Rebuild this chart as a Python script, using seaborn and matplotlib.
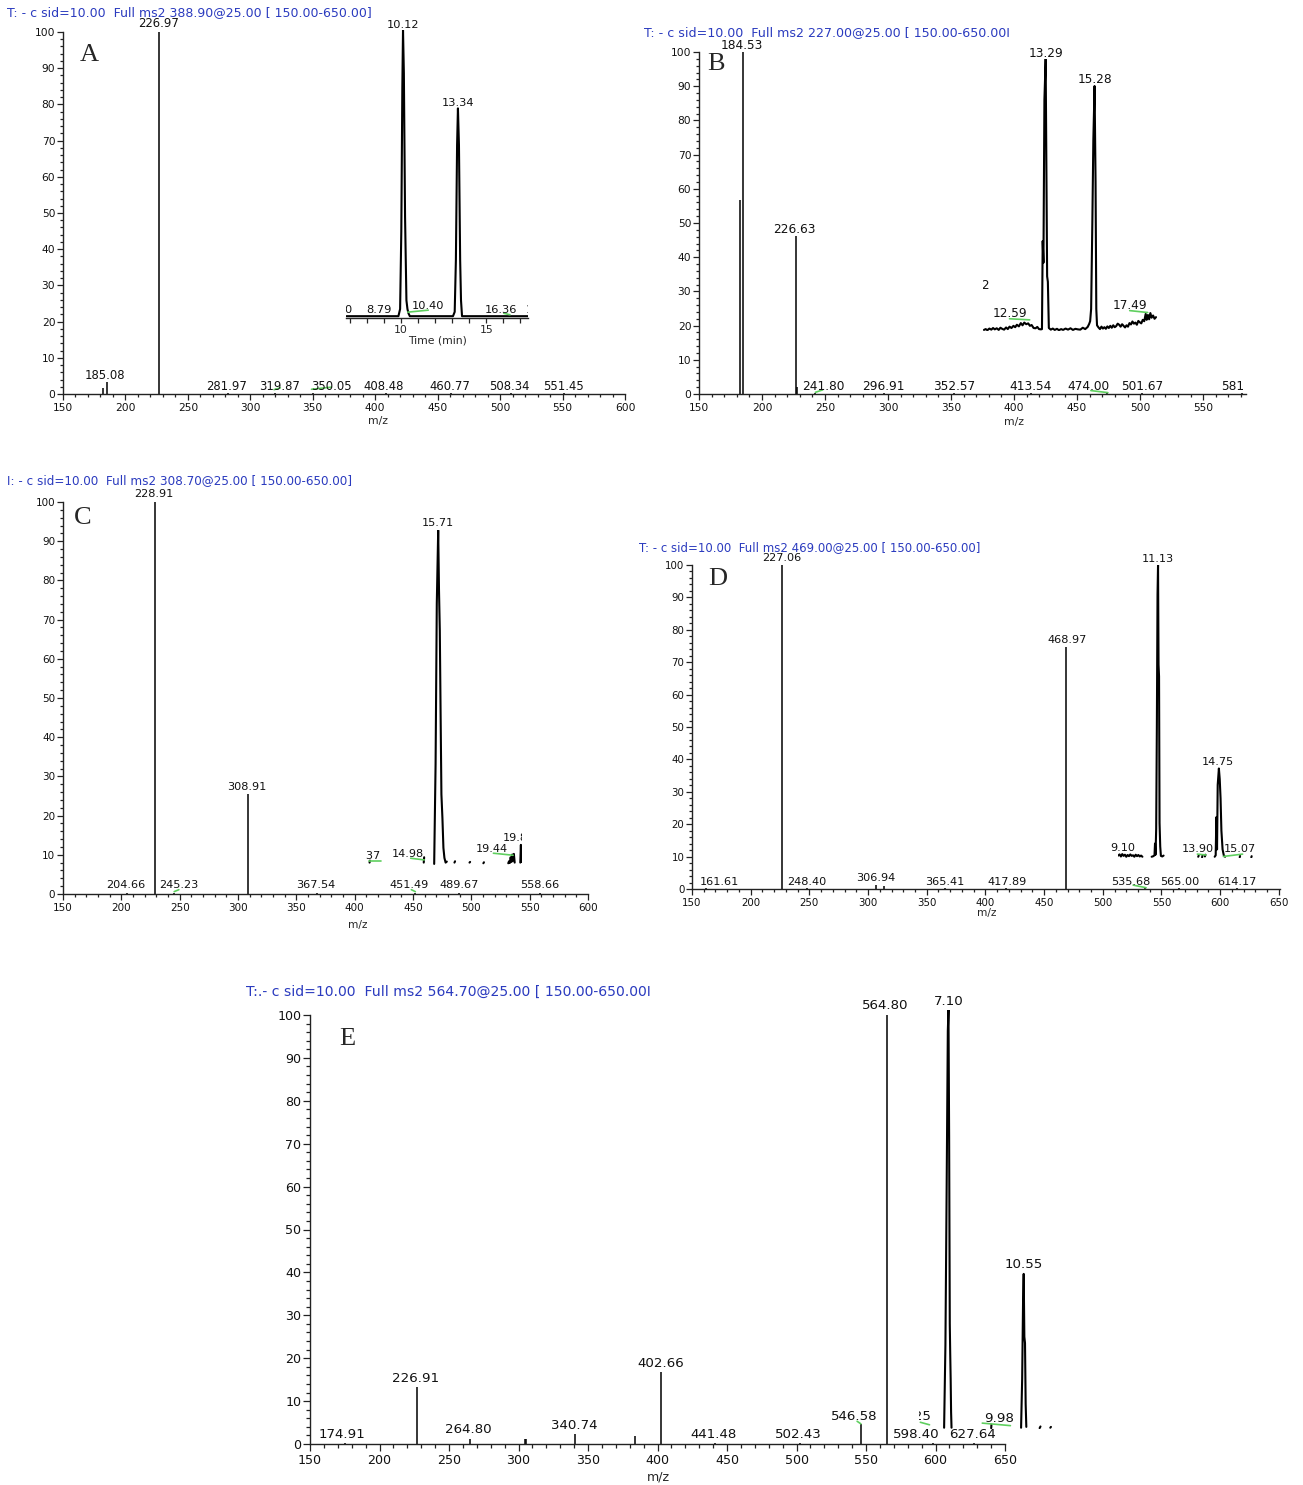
import matplotlib
matplotlib.use("Agg")
import matplotlib.pyplot as plt
from matplotlib.ticker import MultipleLocator
import pandas as pd
import seaborn as sns

sns.set_style("ticks")
plt.rcParams['font.family'] = ['DejaVu Sans']

W, H = 1303, 1485
BLUE = '#2b3bbf'
GREEN = '#5fcf5f'

# ---------------- panel A ----------------
a_title = "T: - c sid=10.00  Full ms2 388.90@25.00 [ 150.00-650.00]"
a_mz = [181.7, 185.08, 226.97, 281.97, 319.87, 350.05, 408.48, 460.77, 508.34, 551.45]
a_int = [1.6, 3.2, 100.0, 0.2, 0.2, 0.2, 0.2, 0.2, 0.2, 0.2]
a_lab = ["185.08", "226.97", "281.97", "319.87", "350.05", "408.48", "460.77", "508.34", "551.45"]
a_lab_x = [183.7, 226.5, 280.7, 323.0, 364.7, 407.0, 459.8, 507.8, 551.0]
a_lab_y = [5.2, 102.3, 2.0, 2.0, 2.0, 2.0, 2.0, 2.0, 2.0]
a_green = [(319.0, 1.2, 324.0, 1.7), (349.0, 1.3, 365.0, 1.9)]
# chromatogram inset (time in min, relative abundance)
a_seg = [0] * 22
a_rt = [6.8, 9.85, 9.95, 10.02, 10.08, 10.12, 10.17, 10.24, 10.32, 10.38, 10.44, 10.52,
        13.05, 13.15, 13.22, 13.29, 13.34, 13.40, 13.47, 13.52, 13.58, 17.45]
a_ri = [0.5, 0.5, 3, 30, 80, 100, 85, 35, 6, 3, 1.5, 0.5,
        0.5, 2, 20, 60, 72.8, 60, 20, 6, 0.5, 0.5]
a_rt_lab = ["7.60", "8.79", "10.12", "10.40", "13.34", "16.36", "17.51"]
a_rt_lab_x = [6.41, 8.73, 10.12, 11.6, 13.34, 15.86, 18.3]
a_rt_lab_y = [2.6, 2.6, 101.9, 4.2, 74.7, 2.5, 2.6]
a_rt_clip = [True, False, False, False, False, False, True]
a_rt_green = [(10.40, 1.9, 11.6, 2.6), (16.03, 1.5, 16.39, 1.0)]

# ---------------- panel B ----------------
b_title = "T: - c sid=10.00  Full ms2 227.00@25.00 [ 150.00-650.00I"
b_mz = [182.6, 184.53, 226.63, 227.4, 241.80, 296.91, 352.57, 413.54, 474.00, 501.67, 581.0]
b_int = [56.7, 100.0, 46.2, 2.0, 0.2, 0.2, 0.2, 0.2, 0.2, 0.2, 0.2]
b_lab = ["184.53", "226.63", "241.80", "296.91", "352.57", "413.54", "474.00", "501.67", "581"]
b_lab_x = [184.3, 226.0, 248.5, 296.2, 352.4, 412.9, 458.6, 501.3, 573.5]
b_lab_y = [102.0, 48.2, 2.1, 2.1, 2.1, 2.1, 2.1, 2.1, 2.1]
b_green = [(242.4, 0.5, 248.1, 1.2), (460.9, 1.0, 474.4, 0.4)]
b_rt = [10.78, 10.85, 10.92, 11.0, 11.08, 11.15, 11.22, 11.3, 11.38, 11.45, 11.52, 11.6,
        11.68, 11.75, 11.82, 11.9, 11.98, 12.05, 12.12, 12.2, 12.28, 12.35, 12.42, 12.5,
        12.58, 12.65, 12.72, 12.8, 12.88, 12.95, 13.02, 13.1,
        13.14, 13.17, 13.2, 13.24, 13.29, 13.32, 13.35, 13.38, 13.42,
        13.5, 13.58, 13.66, 13.75, 13.83, 13.92, 14.0, 14.1, 14.2, 14.3, 14.4, 14.5,
        14.6, 14.7, 14.8, 14.9, 15.0, 15.06, 15.1,
        15.14, 15.19, 15.23, 15.28, 15.32, 15.35, 15.38,
        15.44, 15.5, 15.56, 15.62, 15.68, 15.74, 15.8, 15.86, 15.92, 15.98, 16.04, 16.1,
        16.16, 16.22, 16.28, 16.34, 16.4, 16.46, 16.52, 16.58, 16.64, 16.7, 16.76, 16.82,
        16.88, 16.94, 17.0, 17.06, 17.12, 17.18, 17.24, 17.3, 17.36, 17.4, 17.45, 17.5,
        17.55, 17.6, 17.66, 17.72, 17.78]
b_ri = [0.3, 0.6, 0.2, 0.8, 0.4, 1.0, 0.5, 0.9, 0.3, 1.1, 0.7, 0.4,
        1.2, 0.6, 1.5, 1.0, 1.8, 1.3, 2.2, 1.6, 2.8, 2.0, 3.0, 2.4,
        2.7, 1.8, 2.1, 1.0, 0.9, 1.4, 0.6, 0.5,
        0.6, 33, 25, 85, 100, 60, 20, 18, 1.0,
        0.4, 0.8, 0.3, 0.7, 0.2, 0.6, 0.3, 0.8, 0.4, 0.9, 0.3, 0.7,
        0.5, 0.4, 1.1, 0.6, 1.4, 2.5, 3.5,
        8, 40, 70, 90, 55, 8, 2.0,
        1.2, 0.6, 1.5, 0.8, 1.3, 0.7, 1.6, 1.0, 1.8, 1.1, 2.0, 1.3,
        1.7, 2.6, 2.2, 1.5, 2.4, 1.8, 1.2, 2.0, 1.5, 2.8, 2.3, 3.4,
        2.6, 3.0, 2.2, 3.6, 3.1, 2.7, 4.0, 3.5, 6.2, 4.0, 5.8, 4.2,
        6.5, 4.8, 5.6, 4.4, 5.0]
b_seg = [0] * len(b_rt)
b_rt_lab = ["10.92", "12.59", "13.29", "15.28", "17.49"]
b_rt_lab_x = [10.35, 11.85, 13.29, 15.28, 16.74]
b_rt_lab_y = [16.6, 6.2, 102.0, 92.5, 9.1]
b_rt_clip = [True, False, False, False, False]
b_rt_green = [(11.82, 4.4, 12.64, 4.0), (16.71, 7.4, 17.44, 6.7)]

# ---------------- panel C ----------------
c_title = "I: - c sid=10.00  Full ms2 308.70@25.00 [ 150.00-650.00]"
c_mz = [228.91, 308.91, 204.66, 245.23, 367.54, 451.49, 489.67, 558.66]
c_int = [100.0, 25.4, 0.2, 0.2, 0.2, 0.2, 0.2, 0.2]
c_lab = ["228.91", "308.91", "204.66", "245.23", "367.54", "451.49", "489.67", "558.66"]
c_lab_x = [227.7, 307.8, 204.1, 249.3, 366.9, 447.0, 489.5, 558.8]
c_lab_y = [102.1, 27.4, 2.3, 2.3, 2.3, 2.3, 2.3, 2.3]
c_green = [(245.3, 0.6, 249.3, 1.1), (448.6, 1.1, 452.0, 0.6)]
c_seg = [0, 0, 1, 1,
         2, 2, 2, 2, 2, 2, 2, 2, 2, 2, 2, 2, 2,
         3, 3, 4, 4, 5, 5,
         6, 6, 6, 6, 6, 6, 6, 6, 6,
         7, 7, 7]
c_rt = [12.29, 12.31, 14.99, 15.01,
        15.51, 15.58, 15.64, 15.71, 15.75, 15.79, 15.83, 15.87, 15.92, 15.97, 16.02, 16.08, 16.14,
        16.52, 16.55, 17.27, 17.30, 17.96, 17.99,
        19.2, 19.24, 19.28, 19.32, 19.36, 19.4, 19.44, 19.48, 19.52,
        19.80, 19.83, 19.85]
c_ri = [0.6, 1.2, 0.6, 2.2,
        0.2, 30, 78, 100, 82, 70, 45, 21, 14, 5, 2, 0.6, 0.9,
        0.6, 1.0, 0.6, 0.8, 0.4, 0.7,
        0.4, 1.0, 0.5, 2.2, 0.8, 3.0, 1.2, 3.2, 0.6,
        0.6, 5.9, 0.8]
c_rt_lab = ["12.37", "14.98", "15.71", "19.44", "19.87"]
c_rt_lab_x = [12.04, 14.18, 15.68, 18.36, 19.72]
c_rt_lab_y = [2.6, 3.2, 102.2, 4.6, 8.1]
c_rt_clip = [True, False, False, False, True]
c_rt_green = [(12.27, 1.2, 12.86, 1.2), (14.34, 1.9, 15.02, 1.4), (18.46, 3.4, 19.44, 2.8)]

# ---------------- panel D ----------------
d_title = "T: - c sid=10.00  Full ms2 469.00@25.00 [ 150.00-650.00]"
d_mz = [227.06, 306.94, 313.2, 468.97, 161.61, 248.40, 365.41, 417.89, 535.68, 565.00, 614.17]
d_int = [100.0, 1.2, 1.0, 74.6, 0.2, 0.2, 0.2, 0.2, 0.2, 0.2, 0.2]
d_lab = ["227.06", "468.97", "161.61", "248.40", "306.94", "365.41", "417.89", "535.68", "565.00", "614.17"]
d_lab_x = [226.6, 469.3, 173.0, 247.4, 306.9, 365.3, 418.2, 524.1, 565.3, 614.2]
d_lab_y = [102.3, 76.9, 2.3, 2.3, 3.3, 2.3, 2.3, 2.3, 2.3, 2.3]
d_green = [(525.9, 1.2, 536.9, 0.4)]
d_seg = [0] * 19 + [1] * 16 + [2, 2, 3, 3, 4, 4] + [5] * 12 + [6, 6, 7, 7]
d_rt = [8.76, 8.84, 8.92, 9.0, 9.08, 9.16, 9.24, 9.32, 9.40, 9.48, 9.56, 9.64, 9.72, 9.80,
        9.88, 9.96, 10.04, 10.12, 10.2,
        10.75, 10.85, 10.92, 10.95, 10.98, 11.02, 11.06, 11.1, 11.13, 11.16, 11.19, 11.22,
        11.26, 11.3, 11.38, 11.46,
        13.52, 13.55, 13.75, 13.78, 13.92, 13.95,
        14.5, 14.56, 14.6, 14.64, 14.68, 14.75, 14.8, 14.85, 14.9, 14.97, 15.05, 15.12,
        15.99, 16.01, 16.68, 16.70]
d_ri = [0.9, 1.3, 0.6, 1.4, 0.8, 1.2, 0.5, 1.1, 0.7, 1.3, 0.8, 1.0, 0.5, 1.2,
        0.7, 1.1, 0.6, 0.9, 0.5,
        0.5, 0.7, 1.0, 5.0, 1.2, 10, 45, 90, 100, 66, 62, 12,
        4, 0.8, 0.6, 0.9,
        0.5, 0.9, 0.3, 1.0, 0.6, 1.2,
        0.5, 1.0, 14, 3, 25, 30.6, 27, 20.4, 9.4, 3, 0.8, 0.5,
        0.3, 0.8, 0.3, 0.7]
d_rt_lab = ["9.10", "11.13", "13.90", "14.75", "15.07"]
d_rt_lab_x = [9.06, 11.10, 13.52, 14.70, 15.99]
d_rt_lab_y = [3.6, 102.0, 3.1, 32.7, 3.1]
d_rt_clip = [False] * 5
d_rt_green = [(13.47, 1.4, 13.98, 1.1), (15.02, 0.6, 16.16, 1.4)]

# ---------------- panel E ----------------
e_title = "T:.- c sid=10.00  Full ms2 564.70@25.00 [ 150.00-650.00I"
e_mz = [174.91, 226.91, 264.80, 304.5, 305.3, 340.74, 383.7, 402.66, 441.48, 502.43, 546.58, 564.80, 598.40, 627.64]
e_int = [0.2, 13.2, 1.2, 1.2, 1.2, 2.3, 1.8, 16.7, 0.2, 0.2, 4.7, 100.0, 0.2, 0.2]
e_lab = ["174.91", "226.91", "264.80", "340.74", "402.66", "441.48", "502.43", "546.58", "564.80", "598.40", "627.64"]
e_lab_x = [173.2, 225.9, 263.8, 340.4, 402.3, 440.2, 501.4, 541.6, 564.1, 586.1, 626.8]
e_lab_y = [2.2, 15.2, 3.3, 4.3, 18.7, 2.2, 2.2, 6.4, 102.2, 2.2, 2.2]
e_green = [(543.6, 5.3, 546.3, 4.7)]
e_seg = [0] * 11 + [1, 1] + [2] * 8 + [3, 3, 4, 4]
e_rt = [6.90, 6.96, 7.02, 7.07, 7.10, 7.13, 7.16, 7.18, 7.20, 7.22, 7.24,
        9.06, 9.07,
        10.43, 10.48, 10.52, 10.55, 10.58, 10.61, 10.64, 10.67,
        11.28, 11.32, 11.77, 11.80]
e_ri = [0.3, 20, 60, 95, 100, 70, 25, 18, 12, 4, 0.3,
        0.2, 1.0,
        0.3, 12, 30, 37, 22, 20.5, 6, 0.5,
        0.2, 0.6, 0.3, 0.5]
e_rt_lab = ["6.25", "7.10", "9.98", "10.55"]
e_rt_lab_x = [5.595, 7.10, 9.40, 10.55]
e_rt_lab_y = [3.0, 101.9, 2.6, 39.2]
e_rt_clip = [True, False, False, False]
e_rt_green = [(5.81, 1.6, 6.23, 1.0), (8.65, 1.4, 9.94, 0.8)]

fig = plt.figure(figsize=(W / 100, H / 100), dpi=100)
fig.patch.set_facecolor('white')


def ftext(x, y, s, **kw):
    fig.text(x / W, 1 - y / H, s, **kw)


def spectrum(box, xmax, mz, inten, lab, lab_x, lab_y, green, fs, tfs, tl=4.3, tpad=2.4):
    left, right, top, bottom = box
    ax = fig.add_axes([left / W, 1 - bottom / H, (right - left) / W, (bottom - top) / H])
    ax.set_facecolor('none')
    ax.vlines(mz, 0, inten, color='black', lw=1.1)
    for s, x, y in zip(lab, lab_x, lab_y):
        ax.text(x, y, s, ha='center', va='center', fontsize=fs, color='#111111')
    for x0, y0, x1, y1 in green:
        ax.plot([x0, x1], [y0, y1], color=GREEN, lw=1.2)
    ax.set_xlim(150, xmax)
    ax.set_ylim(0, 100)
    ax.xaxis.set_major_locator(MultipleLocator(50))
    ax.xaxis.set_minor_locator(MultipleLocator(10))
    ax.yaxis.set_major_locator(MultipleLocator(10))
    ax.yaxis.set_minor_locator(MultipleLocator(2))
    ax.tick_params(which='major', length=tl, width=0.9, labelsize=tfs, color='#222222',
                   labelcolor='#111111')
    ax.tick_params(which='minor', length=tl * 0.58, width=0.9, color='#222222')
    ax.tick_params(axis='x', which='major', pad=tpad)
    ax.tick_params(axis='y', which='major', pad=1.2)
    sns.despine(ax=ax)
    for sp in ['left', 'bottom']:
        ax.spines[sp].set_linewidth(1.0)
        ax.spines[sp].set_color('#222222')
    return ax


def chromatogram(ax, bounds, tlim, seg, rt, ri, lab, lab_x, lab_y, clip, green, fs, axis=False):
    ins = ax.inset_axes(bounds, transform=ax.transData)
    ins.set_facecolor('none')
    df = pd.DataFrame({'seg': seg, 't': rt, 'r': ri})
    sns.lineplot(data=df, x='t', y='r', units='seg', estimator=None, sort=False,
                 color='black', lw=1.5, ax=ins, legend=False)
    for s, x, y, c in zip(lab, lab_x, lab_y, clip):
        ins.text(x, y, s, ha='center', va='center', fontsize=fs, color='#111111', clip_on=c)
    for x0, y0, x1, y1 in green:
        ins.plot([x0, x1], [y0, y1], color=GREEN, lw=1.2)
    ins.set_xlim(tlim)
    ins.set_ylim(0, 100)
    ins.set_ylabel('')
    ins.set_yticks([])
    for sp in ins.spines.values():
        sp.set_visible(False)
    if axis:
        ins.spines['bottom'].set_visible(True)
        ins.spines['bottom'].set_linewidth(1.0)
        ins.xaxis.set_major_locator(MultipleLocator(5))
        ins.xaxis.set_minor_locator(MultipleLocator(1))
        ins.tick_params(which='both', length=3.5, width=0.9, pad=1.5, labelsize=7.8)
        ins.set_xlabel('Time (min)', fontsize=7.8, labelpad=1)
    else:
        ins.set_xticks([])
        ins.set_xlabel('')
    return ins


# A
axA = spectrum((63, 625, 32, 394), 600, a_mz, a_int, a_lab, a_lab_x, a_lab_y, a_green, 8.4, 7.7)
chromatogram(axA, [376.5, 21.1, 146.0, 79.4], (6.77, 17.46), a_seg, a_rt, a_ri,
             a_rt_lab, a_rt_lab_x, a_rt_lab_y, a_rt_clip, a_rt_green, 8.2, axis=True)
ftext(7, 13, a_title, fontsize=9.0, color=BLUE, va='center')
ftext(89, 55, "A", fontsize=19, family='Liberation Serif', ha='center', va='center')
ftext(378, 421, "m/z", fontsize=7.8, ha='center', va='center')

# B
axB = spectrum((699, 1246, 52, 394), 584, b_mz, b_int, b_lab, b_lab_x, b_lab_y, b_green, 8.7, 7.7)
chromatogram(axB, [375.5, 18.5, 137.5, 79.5], (10.75, 17.80), b_seg, b_rt, b_ri,
             b_rt_lab, b_rt_lab_x, b_rt_lab_y, b_rt_clip, b_rt_green, 8.7)
ftext(644, 33, b_title, fontsize=9.1, color=BLUE, va='center')
ftext(716, 64, "B", fontsize=19, family='Liberation Serif', ha='center', va='center')
ftext(1014, 422, "m/z", fontsize=7.8, ha='center', va='center')

# C
axC = spectrum((63, 588, 502, 894), 600, c_mz, c_int, c_lab, c_lab_x, c_lab_y, c_green, 8.1, 7.5)
chromatogram(axC, [410.0, 7.5, 133.0, 85.3], (12.13, 19.86), c_seg, c_rt, c_ri,
             c_rt_lab, c_rt_lab_x, c_rt_lab_y, c_rt_clip, c_rt_green, 8.1)
ftext(7, 481, c_title, fontsize=8.65, color=BLUE, va='center')
ftext(83, 518, "C", fontsize=19, family='Liberation Serif', ha='center', va='center')
ftext(358, 925, "m/z", fontsize=7.6, ha='center', va='center')

# D
axD = spectrum((692, 1280, 565, 889), 651, d_mz, d_int, d_lab, d_lab_x, d_lab_y, d_green, 8.1, 7.4)
chromatogram(axD, [513.0, 9.5, 117.0, 90.5], (8.75, 16.92), d_seg, d_rt, d_ri,
             d_rt_lab, d_rt_lab_x, d_rt_lab_y, d_rt_clip, d_rt_green, 8.1)
ftext(639, 548, d_title, fontsize=8.5, color=BLUE, va='center')
ftext(718, 579, "D", fontsize=19, family='Liberation Serif', ha='center', va='center')
ftext(987, 913, "m/z", fontsize=7.6, ha='center', va='center')

# E
axE = spectrum((310, 1005, 1015, 1444), 650, e_mz, e_int, e_lab, e_lab_x, e_lab_y, e_green,
               9.6, 9.1, tl=5.0, tpad=2.2)
chromatogram(axE, [588.0, 3.5, 96.0, 97.7], (5.74, 11.86), e_seg, e_rt, e_ri,
             e_rt_lab, e_rt_lab_x, e_rt_lab_y, e_rt_clip, e_rt_green, 9.6)
ftext(246, 992, e_title, fontsize=10.1, color=BLUE, va='center')
ftext(347, 1039, "E", fontsize=19, family='Liberation Serif', ha='center', va='center')
ftext(658, 1477, "m/z", fontsize=9.1, ha='center', va='center')

fig.savefig("out.png", dpi=100, facecolor='white')
